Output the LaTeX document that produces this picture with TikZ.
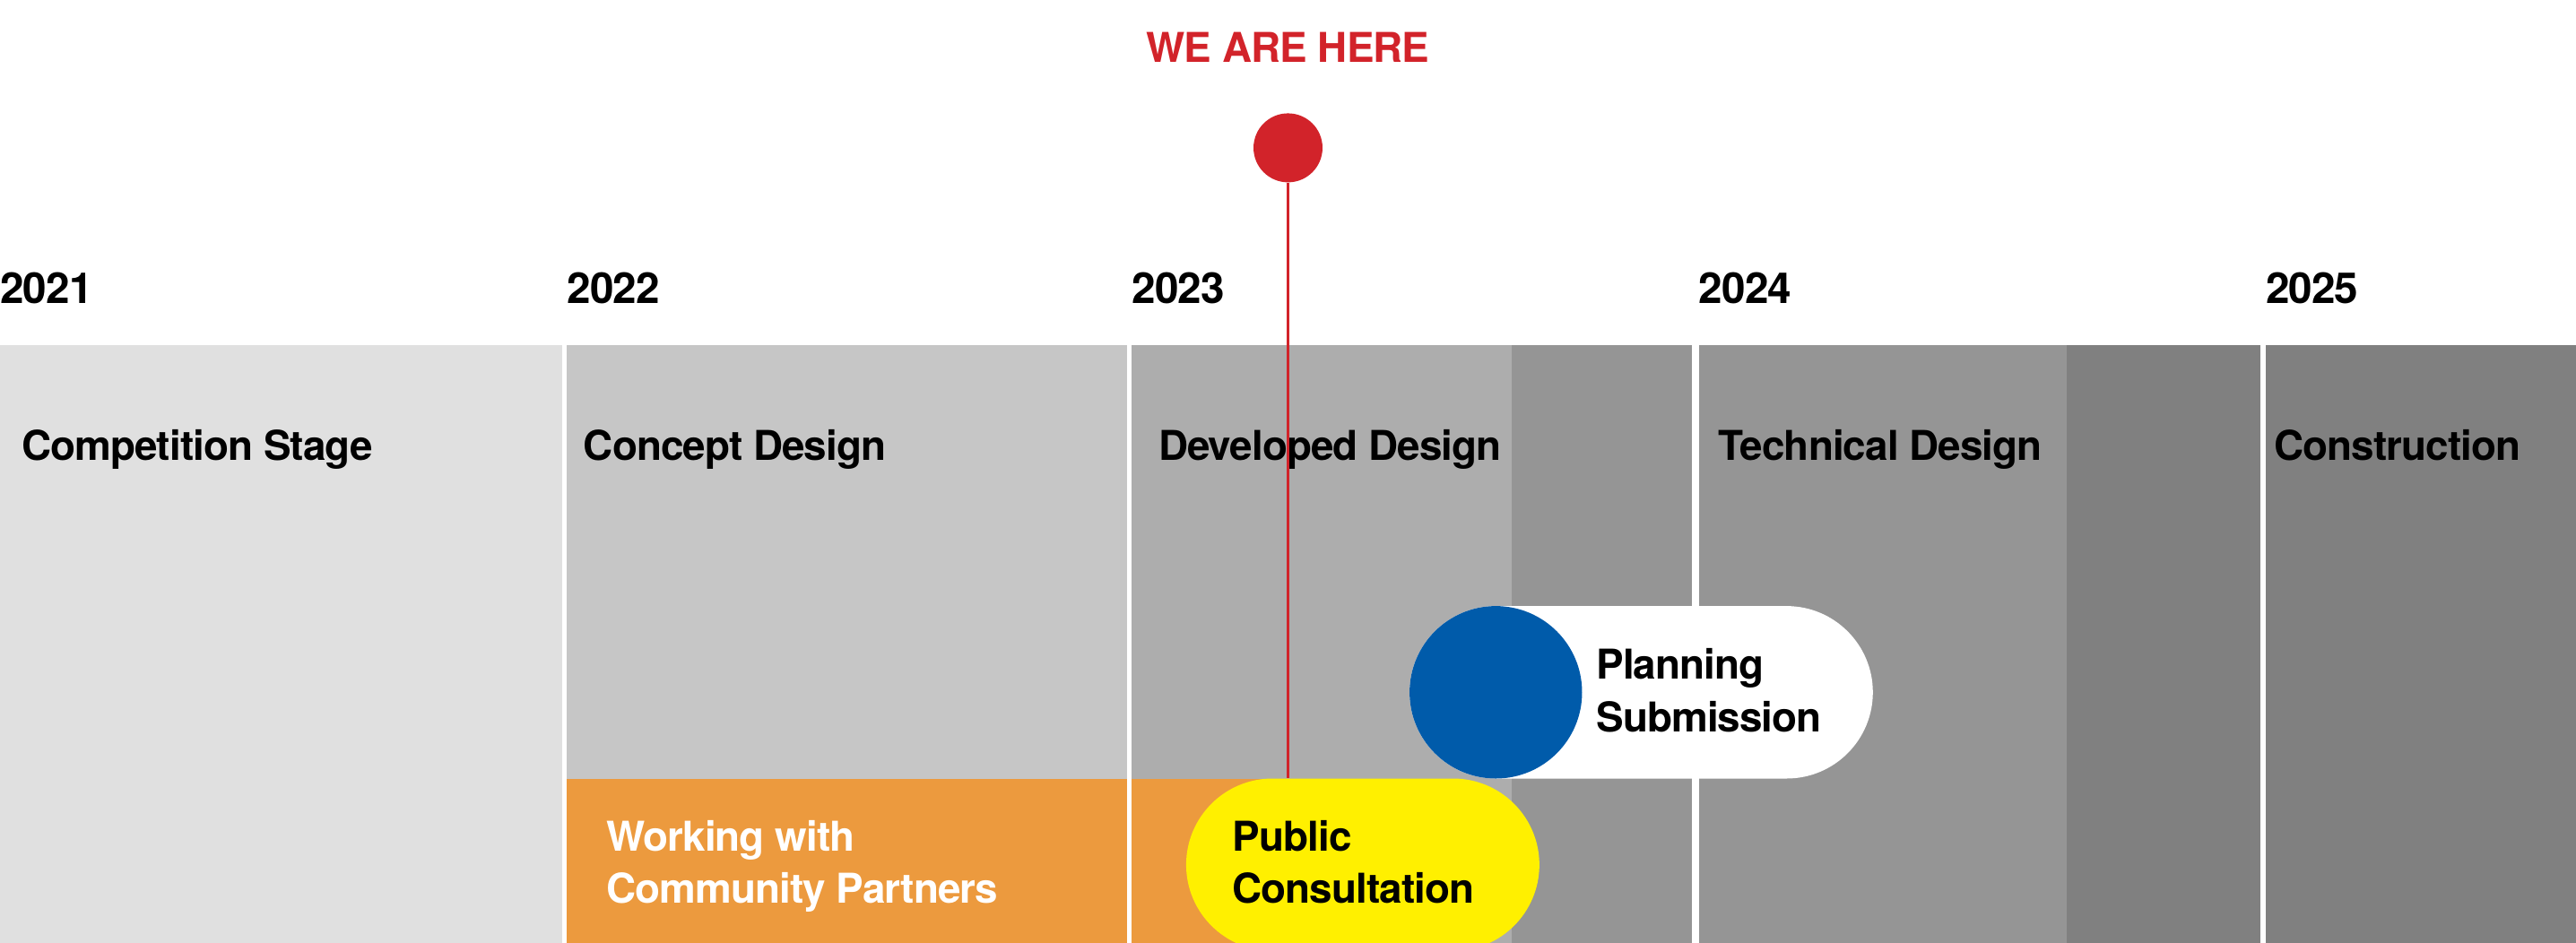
\documentclass[tikz,border=0pt]{standalone}
\usepackage{fontspec}
\setmainfont{TeX Gyre Heros}[LetterSpace=-2]
\usepackage{tikz}
\usetikzlibrary{positioning}

\definecolor{compgray}{HTML}{E0E0E0}
\definecolor{conceptgray}{HTML}{C6C6C6}
\definecolor{develgray}{HTML}{ADADAD}
\definecolor{techgray}{HTML}{959595}
\definecolor{constrgray}{HTML}{808080}
\definecolor{partnerorange}{HTML}{EC9A3E}
\definecolor{consultyellow}{HTML}{FFF000}
\definecolor{planblue}{HTML}{005BAA}
\definecolor{herered}{HTML}{D2232A}

\begin{document}
\begin{tikzpicture}[x=1pt, y=-1pt,
	year/.style={anchor=base west, inner sep=0pt, font=\fontsize{26}{30}\selectfont\bfseries},
	phase/.style={anchor=base west, inner sep=0pt, font=\fontsize{25}{32}\selectfont\bfseries},
	pill/.style={rounded corners=52.5pt, inner sep=0pt, minimum height=105},
	twoline/.style={anchor=base west, inner sep=0pt, align=left, font=\fontsize{25}{32}\selectfont\bfseries}]
	\useasboundingbox (0,0) rectangle (1568,574);

	% year columns
	\fill[compgray] (0,210) rectangle (342,574);
	\fill[conceptgray] (345,210) rectangle (686,574);
	\fill[develgray] (689,210) rectangle (920,574);
	\fill[techgray] (920,210) rectangle (1030,574);
	\fill[techgray] (1034,210) rectangle (1258,574);
	\fill[constrgray] (1258,210) rectangle (1376,574);
	\fill[constrgray] (1379,210) rectangle (1568,574);
	\fill[partnerorange] (345,474) rectangle (686,574);
	\fill[partnerorange] (689,474) rectangle (800,574);

	\node at (0,185) (y21) [year] {2021};
	\node at (345,185) (y22) [year] {2022};
	\node at (689,185) (y23) [year] {2023};
	\node at (1034,185) (y24) [year] {2024};
	\node at (1379,185) (y25) [year] {2025};

	\node at (13,280) (competition) [phase] {Competition Stage};
	\node at (355,280) (concept) [phase] {Concept Design};
	\node at (705,280) (developed) [phase] {Developed Design};
	\node at (1046,280) (technical) [phase] {Technical Design};
	\node at (1384,280) (construction) [phase] {Construction};

	% milestones
	\node at (999,421.5) (planning) [pill, fill=white, minimum width=282] {};
	\node at (910.5,421.5) (planningdot) [circle, fill=planblue, inner sep=0pt, minimum size=105] {};
	\node at (829.5,526.5) (consultation) [pill, fill=consultyellow, minimum width=215] {};

	\node at (369,550) (partners) [twoline, text=white] {Working with\\Community Partners};
	\node at (750,550) (consulttext) [twoline] {Public\\Consultation};
	\node at (971.5,445.5) (planningtext) [twoline] {Planning\\Submission};

	% current position
	\node at (784,38) (herelabel) [anchor=base, inner sep=0pt, text=herered, font=\fontsize{25}{30}\selectfont\bfseries] {WE ARE HERE};
	\node at (784,90) (here) [circle, fill=herered, inner sep=0pt, minimum size=42] {};
	\draw[herered, line width=1.2pt] (here.south) -- (here.south |- consultation.north);
\end{tikzpicture}
\end{document}
